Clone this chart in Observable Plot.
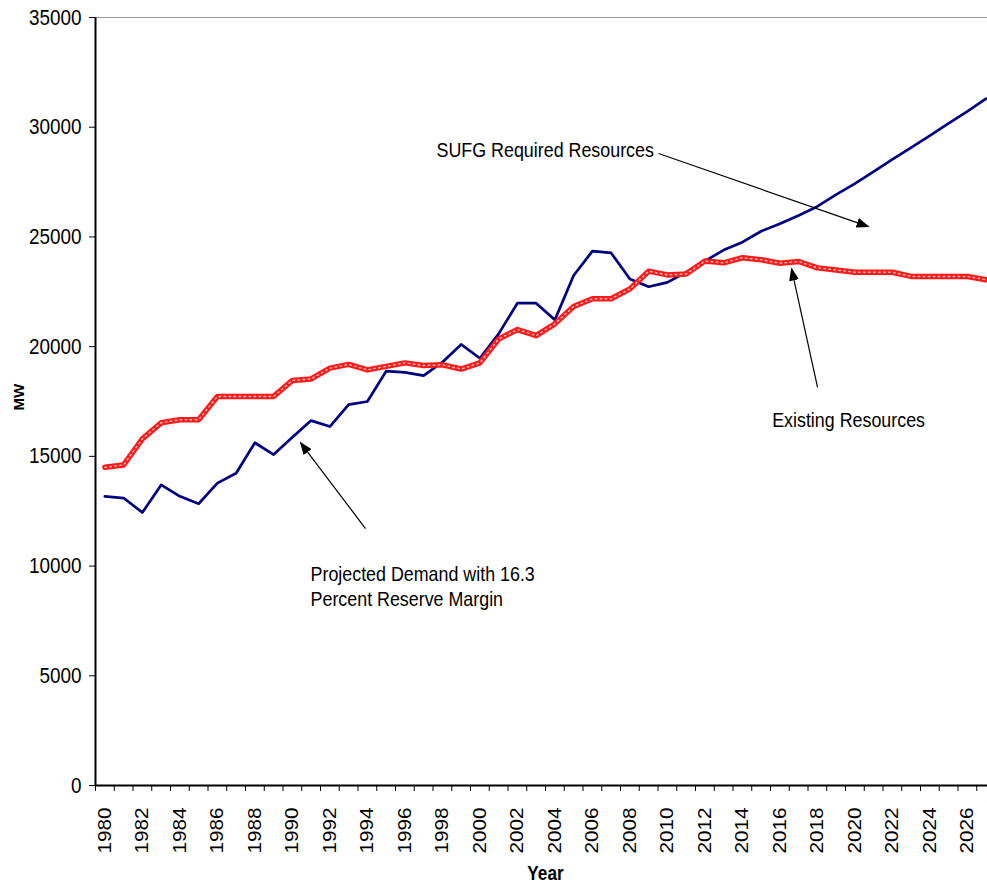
<!DOCTYPE html>
<html>
<head>
<meta charset="utf-8">
<script src="https://cdn.jsdelivr.net/npm/d3@7"></script>
<script src="https://cdn.jsdelivr.net/npm/@observablehq/plot@0.6"></script>
<style>
  html, body { margin: 0; padding: 0; background: #fff; overflow: hidden; }
  #chart { width: 987px; height: 882px; overflow: hidden; }
  #chart svg { max-width: none !important; }
</style>
</head>
<body>
<div id="chart"></div>
<script>
const years = d3.range(1980, 2028);
const demand = [13180, 13100, 12440, 13700, 13180, 12840, 13780, 14230, 15620, 15080,
  15870, 16630, 16360, 17360, 17500, 18880, 18830, 18680, 19290, 20100,
  19470, 20580, 21980, 21980, 21220, 23240, 24350, 24270, 23080, 22730,
  22930, 23390, 23900, 24400, 24760, 25260, 25600, 25980, 26390, 26930,
  27430, 27980, 28530, 29070, 29620, 30170, 30720, 31300];
const existing = [14500, 14610, 15800, 16530, 16670, 16670, 17730, 17730, 17730, 17730,
  18460, 18530, 19020, 19190, 18940, 19100, 19260, 19140, 19170, 18980,
  19260, 20350, 20780, 20500, 21040, 21830, 22180, 22180, 22630, 23440,
  23270, 23310, 23900, 23820, 24050, 23960, 23800, 23880, 23590, 23490,
  23390, 23390, 23390, 23200, 23200, 23200, 23200, 23050];
const yTicks = [0, 5000, 10000, 15000, 20000, 25000, 30000, 35000];
const xLabelYears = d3.range(1980, 2027, 2);
const xBoundaries = d3.range(1979.5, 2028, 1);

const annotationTexts = ["SUFG Required Resources", "Existing Resources",
  "Projected Demand with 16.3", "Percent Reserve Margin"];
const annotationX = [1997.69, 2015.59, 1990.97, 1990.97];
const annotationY = [28630, 16330, 9300, 8160];
const arrows = [
  {x1: 2009.53, y1: 28800, x2: 2020.73, y2: 25470},
  {x1: 2018.01, y1: 18140, x2: 2016.62, y2: 23560},
  {x1: 1993.9, y1: 11710, x2: 1990.43, y2: 15630}
];

const demandData = years.map((yr, i) => ({year: yr, value: demand[i]}));
const existingData = years.map((yr, i) => ({year: yr, value: existing[i]}));
const annotations = annotationTexts.map((t, i) => ({text: t, x: annotationX[i], y: annotationY[i]}));

const NARROW = "'Liberation Sans Narrow', 'Arial Narrow', 'Liberation Sans', Arial, sans-serif";
const SANS = "'Liberation Sans', Arial, sans-serif";

const chart = Plot.plot({
  width: 1000,
  height: 882,
  marginLeft: 95,
  marginRight: 5,
  marginTop: 17,
  marginBottom: 97,
  style: {background: "#fff", color: "#000", fontFamily: SANS, maxWidth: "none"},
  x: {type: "linear", domain: [1979.5, 2027.5]},
  y: {domain: [0, 35000]},
  marks: [
    Plot.ruleY([35000], {stroke: "#999", strokeWidth: 1}),
    Plot.axisY({ticks: yTicks, tickSize: 6, tickPadding: 8, tickFormat: d => String(d),
      label: null, fontSize: 22, fontFamily: NARROW, strokeWidth: 1}),
    Plot.axisX({ticks: xBoundaries, tickSize: 6, tickFormat: () => "", label: null}),
    // year labels, rotated, reading bottom-to-top below the axis
    Plot.text(xLabelYears, {x: d => d, frameAnchor: "bottom", dy: 68, rotate: -90,
      textAnchor: "start", lineAnchor: "middle", text: d => String(d),
      fontSize: 19, fontFamily: SANS, fill: "#000"}),
    Plot.ruleX([1979.5], {stroke: "#000", strokeWidth: 2}),
    Plot.ruleY([0], {stroke: "#000", strokeWidth: 2}),
    Plot.line(demandData, {x: "year", y: "value", stroke: "#000080", strokeWidth: 2.7}),
    Plot.line(existingData, {x: "year", y: "value", stroke: "#ff1a1a", strokeWidth: 5.5}),
    Plot.line(existingData, {x: "year", y: "value", stroke: "#fff", strokeWidth: 1.4,
      strokeDasharray: "1.5 3.5", strokeOpacity: 0.75}),
    Plot.link(arrows, {x1: "x1", y1: "y1", x2: "x2", y2: "y2", stroke: "#000", strokeWidth: 1.2}),
    Plot.text(annotations, {x: "x", y: "y", text: "text", textAnchor: "start", lineAnchor: "bottom",
      fontSize: 21, fontFamily: NARROW, fill: "#000"}),
    Plot.text(["MW"], {frameAnchor: "left", dx: -76, dy: 9, rotate: -90, lineAnchor: "middle",
      fontSize: 15, fontWeight: "bold", fontFamily: SANS, fill: "#000"}),
    Plot.text(["Year"], {frameAnchor: "bottom", dy: 94, lineAnchor: "bottom",
      fontSize: 20, fontWeight: "bold", fontFamily: NARROW, fill: "#000"})
  ]
});

// filled triangular arrowheads for the annotation links
const svgNS = "http://www.w3.org/2000/svg";
const defs = document.createElementNS(svgNS, "defs");
const marker = document.createElementNS(svgNS, "marker");
marker.setAttribute("id", "tri-head");
marker.setAttribute("viewBox", "0 0 13 10");
marker.setAttribute("refX", "12");
marker.setAttribute("refY", "5");
marker.setAttribute("markerWidth", "13");
marker.setAttribute("markerHeight", "10");
marker.setAttribute("markerUnits", "userSpaceOnUse");
marker.setAttribute("orient", "auto");
const mpath = document.createElementNS(svgNS, "path");
mpath.setAttribute("d", "M0,0L13,5L0,10Z");
mpath.setAttribute("fill", "#000");
marker.appendChild(mpath);
defs.appendChild(marker);
chart.insertBefore(defs, chart.firstChild);
chart.querySelectorAll('g[aria-label="link"] path').forEach(p => p.setAttribute("marker-end", "url(#tri-head)"));

document.getElementById("chart").appendChild(chart);

// the original uses a condensed face; emulate it by scaling glyph widths
function squeeze(elements, f) {
  elements.forEach(t => {
    const L = t.getComputedTextLength();
    if (L > 0) {
      t.setAttribute("textLength", (L * f).toFixed(1));
      t.setAttribute("lengthAdjust", "spacingAndGlyphs");
    }
  });
}
const allText = Array.from(chart.querySelectorAll('g[aria-label="text"] text'));
squeeze(allText.filter(t => annotationTexts.includes(t.textContent)), 0.85);
squeeze(allText.filter(t => t.textContent === "Year"), 0.86);
squeeze(allText.filter(t => /^\d{4}$/.test(t.textContent)), 1.09);
squeeze(Array.from(chart.querySelectorAll('g[aria-label="y-axis tick label"] text')), 0.86);
</script>
</body>
</html>
